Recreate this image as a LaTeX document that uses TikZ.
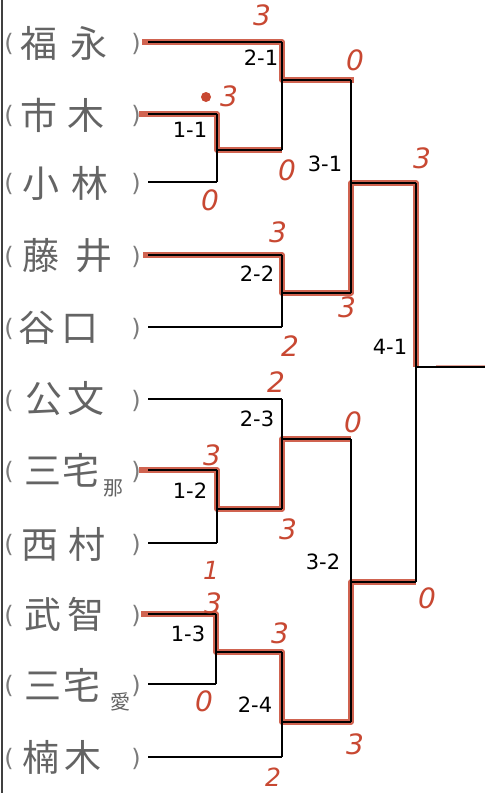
\documentclass[tikz,border=0pt]{standalone}
\usepackage{fontspec}
\newfontfamily\labfont{DejaVu Sans}
\newfontfamily\jpfont{Noto Sans CJK JP}
\definecolor{pen}{RGB}{200,72,50}
\definecolor{pencil}{RGB}{100,100,100}
\begin{document}
\begin{tikzpicture}[x=1pt,y=-1pt,
  bline/.style={draw=black,line width=1.7pt},
  rline/.style={draw=pen,line width=5.5pt,opacity=0.85,line join=round,yshift=-0.8pt,xshift=0.6pt},
  pname/.style={anchor=west,inner sep=0pt,text=pencil,font=\jpfont\fontsize{37}{37}\selectfont},
  smallname/.style={anchor=west,inner sep=0pt,text=pencil,font=\jpfont\fontsize{20}{20}\selectfont},
  paren/.style={inner sep=0pt,text=pencil!85,font=\labfont\fontsize{24}{24}\selectfont},
  mlabel/.style={inner sep=0pt,font=\labfont\fontsize{21}{21}\selectfont},
  score/.style={inner sep=0pt,text=pen,font=\labfont\itshape\fontsize{28}{28}\selectfont}]
\useasboundingbox (0,0) rectangle (493,793);
\fill[white] (0,0) rectangle (493,793);
\draw[line width=1.5pt,black!75] (2,0) -- (2,793);

% player rows
\foreach \i/\y in {1/42,2/114,3/182,4/255,5/327,6/399,7/470,8/543,9/614,10/684,11/757}{
  \coordinate (s\i) at (148,\y);
  \node[paren] (lp\i) at (9,\y+2) {(};
  \node[paren] (rp\i) at (136,\y+2) {)};
}
\node[pname] (n1) at (20,43) {福\hspace{13pt}永};
\node[pname] (n2) at (20,115) {市\hspace{10pt}木};
\node[pname] (n3) at (22,183) {小\hspace{12pt}林};
\node[pname] (n4) at (22,256) {藤\hspace{16pt}井};
\node[pname] (n5) at (18,328) {谷\hspace{6pt}口};
\node[pname] (n6) at (25,399) {公\hspace{5pt}文};
\node[pname] (n7) at (24,470) {三\hspace{1pt}宅};
\node[smallname] (n7b) at (103,488) {那};
\node[pname] (n8) at (21,544) {西\hspace{10pt}村};
\node[pname] (n9) at (24,614) {武\hspace{6pt}智};
\node[pname] (n10) at (24,685) {三\hspace{2pt}宅};
\node[smallname] (n10b) at (110,702) {愛};
\node[pname] (n11) at (22,757) {楠\hspace{5pt}木};

% bracket coordinates
\coordinate (m11a) at (217,114); \coordinate (m11b) at (217,182); \coordinate (m11o) at (217,150);
\coordinate (m12a) at (217,470); \coordinate (m12b) at (217,543); \coordinate (m12o) at (217,509);
\coordinate (m13a) at (216,614); \coordinate (m13b) at (216,684); \coordinate (m13o) at (216,652);
\coordinate (m21a) at (282,42);  \coordinate (m21b) at (282,150); \coordinate (m21o) at (282,80);
\coordinate (m22a) at (282,255); \coordinate (m22b) at (282,327); \coordinate (m22o) at (282,293);
\coordinate (m23a) at (282,399); \coordinate (m23b) at (282,509); \coordinate (m23o) at (282,439);
\coordinate (m24a) at (282,652); \coordinate (m24b) at (282,757); \coordinate (m24o) at (282,722);
\coordinate (m31a) at (351,80);  \coordinate (m31b) at (351,293); \coordinate (m31o) at (351,183);
\coordinate (m32a) at (351,439); \coordinate (m32b) at (351,722); \coordinate (m32o) at (351,582);
\coordinate (m41a) at (416,183); \coordinate (m41b) at (416,582); \coordinate (m41o) at (416,367);
\coordinate (fin) at (485,367);

% red winner paths
\draw[rline] ([xshift=-6pt]s1) -- (m21a) -- (m21o) -- ([xshift=3pt]m31a);
\draw[rline] ([xshift=-9pt]s2) -- (m11a) -- (m11o) -- (m21b);
\draw[rline] ([xshift=-5pt]s4) -- (m22a) -- (m22o) -- (m31b) -- (m31o) -- (m41a) -- (m41o);
\draw[rline] ([xshift=-9pt]s7) -- (m12a) -- (m12o) -- (m23b) -- (m23o) -- (m32a);
\draw[rline] ([xshift=-7pt]s9) -- (m13a) -- (m13o) -- (m24a) -- (m24o) -- (m32b) -- (m32o) -- (m41b);
\draw[draw=pen,line width=3pt,opacity=0.5] ([xshift=20pt,yshift=1pt]m41o) -- ([yshift=1pt]fin);

% black lines
\foreach \a/\b in {s1/m21a,s2/m11a,s3/m11b,s4/m22a,s5/m22b,s6/m23a,s7/m12a,s8/m12b,s9/m13a,s10/m13b,s11/m24b}{
  \draw[bline] (\a) -- (\b);
}
\draw[bline] (m11a) -- (m11b); \draw[bline] (m11o) -- (m21b);
\draw[bline] (m12a) -- (m12b); \draw[bline] (m12o) -- (m23b);
\draw[bline] (m13a) -- (m13b); \draw[bline] (m13o) -- (m24a);
\draw[bline] (m21a) -- (m21b); \draw[bline] (m21o) -- (m31a);
\draw[bline] (m22a) -- (m22b); \draw[bline] (m22o) -- (m31b);
\draw[bline] (m23a) -- (m23b); \draw[bline] (m23o) -- (m32a);
\draw[bline] (m24a) -- (m24b); \draw[bline] (m24o) -- (m32b);
\draw[bline] (m31a) -- (m31b); \draw[bline] (m31o) -- (m41a);
\draw[bline] (m32a) -- (m32b); \draw[bline] (m32o) -- (m41b);
\draw[bline] (m41a) -- (m41b); \draw[bline] (m41o) -- (fin);

% match labels
\node[mlabel] (l11) at (190,130) {1-1};
\node[mlabel] (l12) at (190,491) {1-2};
\node[mlabel] (l13) at (188,634) {1-3};
\node[mlabel] (l21) at (261,58) {2-1};
\node[mlabel] (l22) at (257,274) {2-2};
\node[mlabel] (l23) at (257,419) {2-3};
\node[mlabel] (l24) at (255,705) {2-4};
\node[mlabel] (l31) at (325,164) {3-1};
\node[mlabel] (l32) at (323,562) {3-2};
\node[mlabel] (l41) at (390,347) {4-1};

% scores
\fill[pen] (206,97) circle (5pt);
\node[score] (c1) at (262,15) {3};
\node[score] (c2) at (229,96) {3};
\node[score] (c3) at (210,200) {0};
\node[score] (c4) at (287,170) {0};
\node[score] (c5) at (355,60) {0};
\node[score] (c6) at (278,232) {3};
\node[score] (c7) at (347,307) {3};
\node[score] (c8) at (290,346) {2};
\node[score] (c9) at (422,158) {3};
\node[score] (c10) at (276,382) {2};
\node[score] (c11) at (353,422) {0};
\node[score] (c12) at (212,455) {3};
\node[score] (c13) at (288,529) {3};
\node[score,font=\labfont\itshape\fontsize{25}{25}\selectfont] (c14) at (211,570) {1};
\node[score] (c15) at (213,603) {3};
\node[score] (c16) at (204,701) {0};
\node[score] (c17) at (280,633) {3};
\node[score] (c18) at (355,744) {3};
\node[score,font=\labfont\itshape\fontsize{25}{25}\selectfont] (c19) at (273,777) {2};
\node[score] (c20) at (427,598) {0};
\end{tikzpicture}
\end{document}
